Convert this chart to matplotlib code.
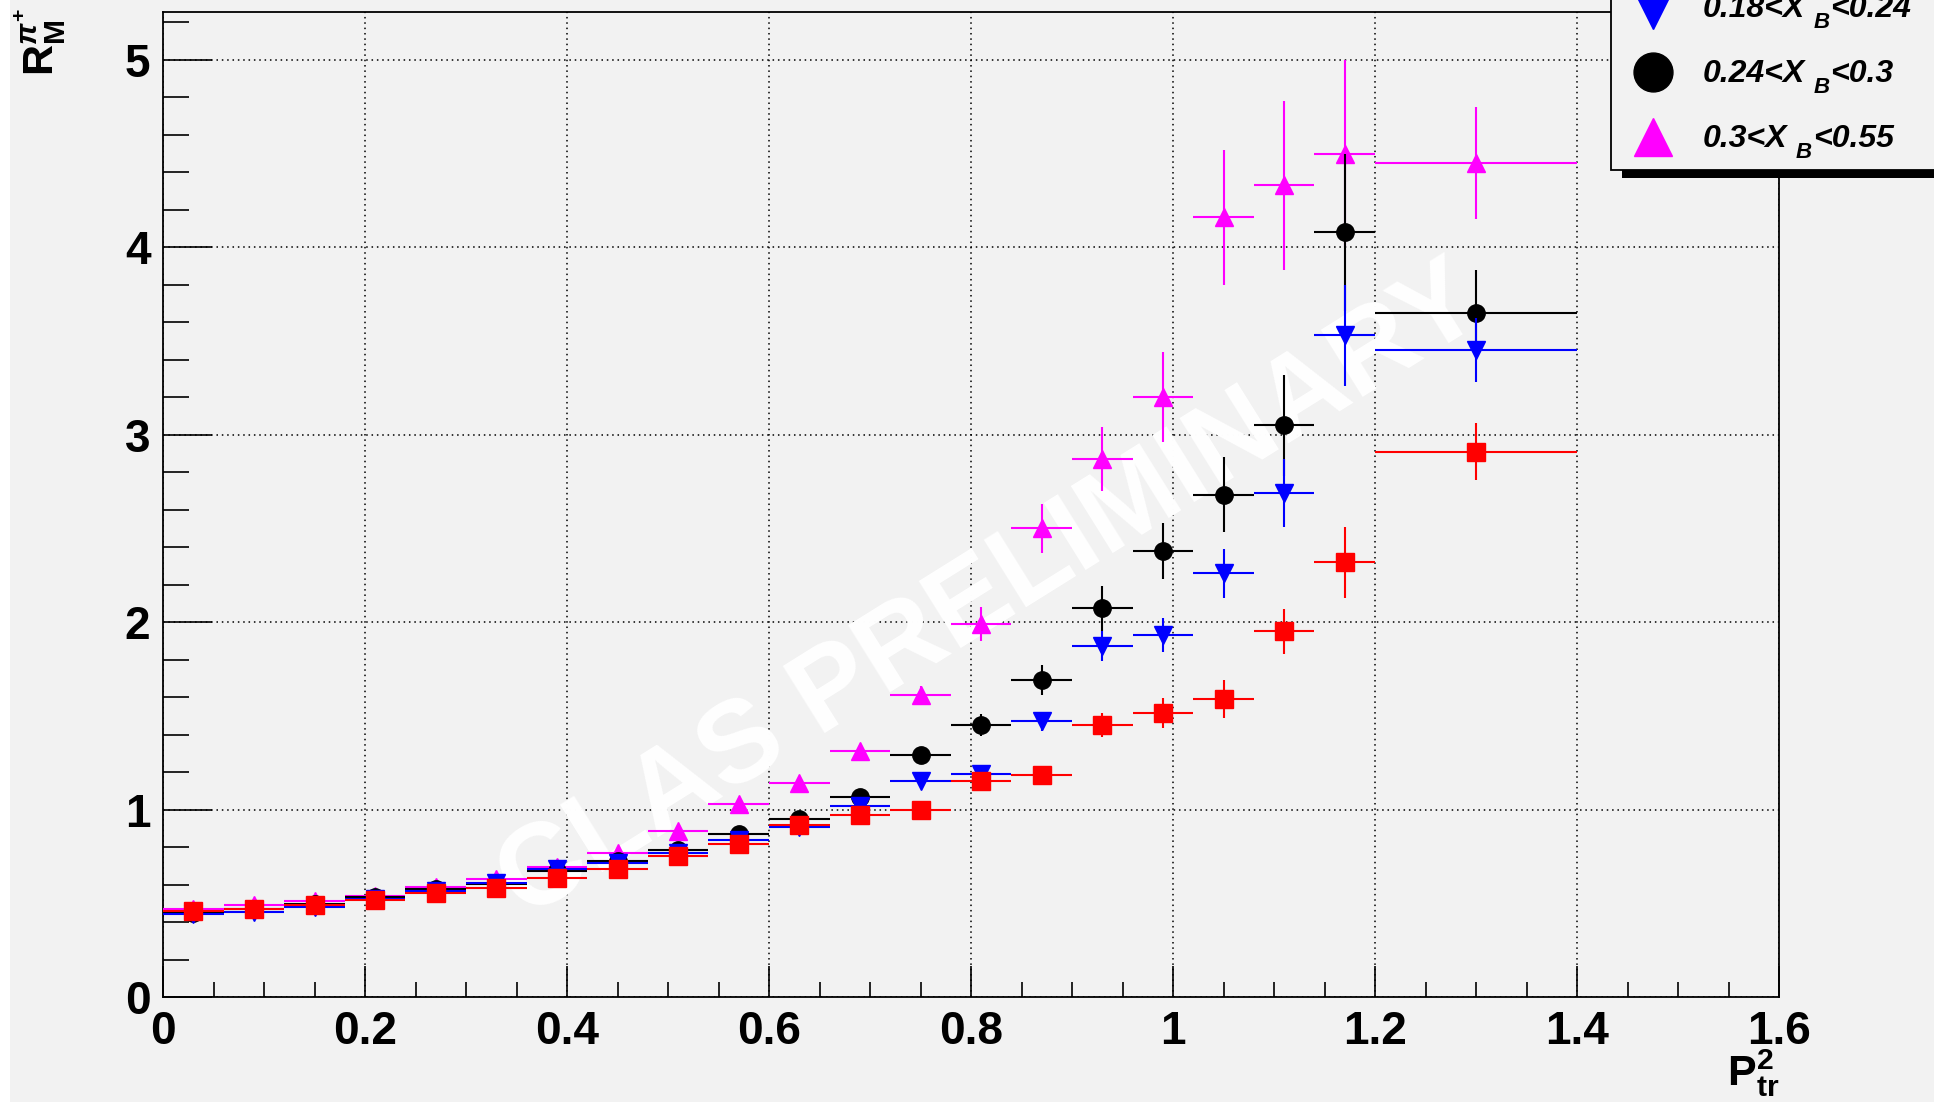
import numpy as np
import matplotlib
matplotlib.use("Agg")
import matplotlib.pyplot as plt
from matplotlib.patches import Rectangle
from matplotlib.lines import Line2D
from matplotlib.ticker import MultipleLocator, FuncFormatter

plt.rcParams['font.family'] = ['Liberation Sans', 'DejaVu Sans']
plt.rcParams['mathtext.fontset'] = 'custom'
plt.rcParams['mathtext.rm'] = 'Liberation Sans:bold'
plt.rcParams['mathtext.bf'] = 'Liberation Sans:bold'
plt.rcParams['mathtext.it'] = 'Liberation Sans:bold:italic'

# bin centres and half widths in P_tr^2
pt2 = [0.03, 0.09, 0.15, 0.21, 0.27, 0.33, 0.39, 0.45, 0.51, 0.57, 0.63,
       0.69, 0.75, 0.81, 0.87, 0.93, 0.99, 1.05, 1.11, 1.17, 1.30]
half_w = [0.03] * 20 + [0.10]

# 0.1<xB<0.18 (red squares)
r_red = [0.46, 0.47, 0.49, 0.515, 0.555, 0.58, 0.635, 0.685, 0.75, 0.815, 0.92,
         0.97, 1.00, 1.155, 1.185, 1.45, 1.515, 1.59, 1.95, 2.32, 2.91]
e_red = [0.01, 0.01, 0.01, 0.01, 0.01, 0.01, 0.01, 0.01, 0.01, 0.015, 0.015,
         0.02, 0.02, 0.03, 0.04, 0.065, 0.08, 0.10, 0.12, 0.19, 0.15]

# 0.18<xB<0.24 (blue down triangles)
r_blue = [0.445, 0.455, 0.48, 0.525, 0.565, 0.61, 0.685, 0.715, 0.77, 0.835, 0.905,
          1.02, 1.15, 1.19, 1.47, 1.87, 1.93, 2.26, 2.69, 3.53, 3.45]
e_blue = [0.01, 0.01, 0.01, 0.01, 0.01, 0.01, 0.01, 0.01, 0.01, 0.015, 0.015,
          0.02, 0.02, 0.03, 0.05, 0.08, 0.09, 0.13, 0.18, 0.27, 0.17]

# 0.24<xB<0.3 (black circles)
r_black = [0.45, 0.47, 0.495, 0.535, 0.577, 0.605, 0.67, 0.725, 0.785, 0.87, 0.95,
           1.065, 1.29, 1.45, 1.69, 2.075, 2.38, 2.68, 3.05, 4.08, 3.65]
e_black = [0.01, 0.01, 0.01, 0.01, 0.01, 0.01, 0.01, 0.01, 0.015, 0.015, 0.02,
           0.02, 0.03, 0.06, 0.08, 0.12, 0.15, 0.20, 0.27, 0.42, 0.23]

# 0.3<xB<0.55 (magenta triangles)
r_mag = [0.47, 0.49, 0.51, 0.54, 0.585, 0.63, 0.695, 0.77, 0.885, 1.03, 1.14,
         1.31, 1.61, 1.99, 2.50, 2.87, 3.20, 4.16, 4.33, 4.50, 4.45]
e_mag = [0.01, 0.01, 0.01, 0.01, 0.01, 0.01, 0.015, 0.015, 0.02, 0.02, 0.02,
         0.03, 0.05, 0.09, 0.13, 0.17, 0.24, 0.36, 0.45, 0.50, 0.30]

# legend text pieces: (before subscript, subscript, after subscript)
legend_parts = [('0.18<X', 'B', '<0.24'),
                ('0.24<X', 'B', '<0.3'),
                ('0.3<X', 'B', '<0.55')]

W, H = 1934, 1102
bg = '#f2f2f2'
fig = plt.figure(figsize=(W / 100, H / 100), dpi=100, facecolor=bg)


def fx(x):
    return x / W


def fy(y):
    return 1 - y / H


ax = fig.add_axes([fx(163), fy(997), fx(1779) - fx(163), fy(12) - fy(997)])
ax.set_facecolor(bg)
ax.set_xlim(0, 1.6)
ax.set_ylim(0, 5.255)

ax.xaxis.set_major_locator(MultipleLocator(0.2))
ax.xaxis.set_minor_locator(MultipleLocator(0.05))
ax.yaxis.set_major_locator(MultipleLocator(1))
ax.yaxis.set_minor_locator(MultipleLocator(0.2))
ax.xaxis.set_major_formatter(FuncFormatter(lambda v, p: '%g' % round(v, 2)))
ax.yaxis.set_major_formatter(FuncFormatter(lambda v, p: '%g' % round(v, 2)))

ax.tick_params(axis='x', which='major', direction='in', length=22, width=1.2, pad=9,
               labelsize=33)
ax.tick_params(axis='x', which='minor', direction='in', length=11, width=1.2)
ax.tick_params(axis='y', which='major', direction='in', length=35, width=1.2, pad=9,
               labelsize=33)
ax.tick_params(axis='y', which='minor', direction='in', length=19, width=1.2)
for lab in ax.get_xticklabels() + ax.get_yticklabels():
    lab.set_fontweight('bold')
for s in ax.spines.values():
    s.set_linewidth(1.3)

ax.grid(True, which='major', color='black', linestyle=(0, (1, 2.5)), linewidth=1.1)
ax.set_axisbelow(True)

ax.text(0.82, 2.15, 'CLAS PRELIMINARY', rotation=32, ha='center', va='center',
        rotation_mode='anchor', fontsize=83, fontweight='bold', color='white',
        zorder=1.5)

series = [
    (r_mag, e_mag, '^', 'magenta'),
    (r_black, e_black, 'o', 'black'),
    (r_blue, e_blue, 'v', 'blue'),
    (r_red, e_red, 's', 'red'),
]
for k, (yv, ev, m, c) in enumerate(series):
    ax.errorbar(pt2, yv, xerr=half_w, yerr=ev, fmt=m, color=c, ms=12.5,
                elinewidth=1.5, capsize=0, zorder=3 + k)

# axis titles
fig.text(fx(40), fy(8), r'$\mathbf{R}_{\mathbf{M}}^{\pi^{\mathbf{+}}}$', rotation=90,
         ha='center', va='top', fontsize=31)
fig.text(fx(1779), fy(1047), r'$\mathbf{P}_{\mathbf{tr}}^{\mathbf{2}}$',
         ha='right', va='top', fontsize=31)

# legend box (top of it runs off the canvas)
fig.add_artist(Rectangle((fx(1622), fy(178)), fx(1940) - fx(1622), fy(170) - fy(178),
                         transform=fig.transFigure, facecolor='black', edgecolor='none',
                         zorder=10))
fig.add_artist(Rectangle((fx(1611), fy(170)), fx(1960) - fx(1611), fy(-200) - fy(170),
                         transform=fig.transFigure, facecolor=bg, edgecolor='black',
                         linewidth=1.3, zorder=11))
renderer = fig.canvas.get_renderer()
leg_rows = [(10, 'v', 'blue', 17), (72, 'o', 'black', 82), (137, '^', 'magenta', 147)]
for (yc, m, c, yb), (t1, sub, t2) in zip(leg_rows, legend_parts):
    fig.add_artist(Line2D([fx(1653)], [fy(yc)], marker=m, color=c, markersize=28,
                          linestyle='none', transform=fig.transFigure, zorder=12))
    a = fig.text(fx(1703), fy(yb), t1, ha='left', va='baseline', fontsize=23,
                 fontweight='bold', fontstyle='italic', zorder=12)
    x1 = a.get_window_extent(renderer).x1 + 8
    b = fig.text(x1 / W, fy(yb + 11), sub, ha='left', va='baseline', fontsize=16,
                 fontweight='bold', fontstyle='italic', zorder=12)
    x2 = b.get_window_extent(renderer).x1 + 1
    fig.text(x2 / W, fy(yb), t2, ha='left', va='baseline', fontsize=23,
             fontweight='bold', fontstyle='italic', zorder=12)

# white strip at the left edge
fig.add_artist(Rectangle((0, 0), fx(10), 1, transform=fig.transFigure,
                         facecolor='white', edgecolor='none', zorder=0))

fig.savefig('out.png', dpi=100, facecolor=bg)
